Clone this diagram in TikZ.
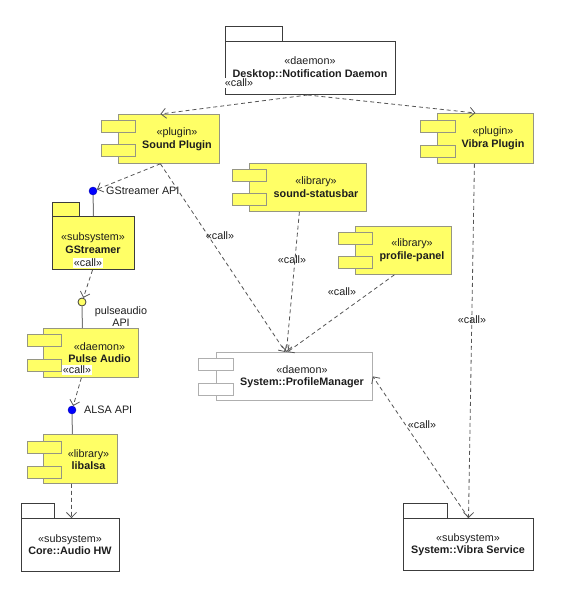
\documentclass[tikz,border=0pt]{standalone}
\usepackage{fontspec}
\setmainfont{Liberation Sans}
\usetikzlibrary{arrows.meta,calc}
\definecolor{compyellow}{RGB}{255,255,102}
\definecolor{compborder}{RGB}{150,150,130}
\definecolor{pkgborder}{RGB}{60,60,60}
\definecolor{pmborder}{RGB}{175,175,175}
\definecolor{linegray}{RGB}{85,85,85}
\definecolor{stemgray}{RGB}{120,120,120}
\definecolor{txt}{RGB}{30,30,30}
\begin{document}
\begin{tikzpicture}[x=1pt,y=-1pt,
  font=\fontsize{10.8}{12.5}\selectfont,
  comp/.style={draw=compborder, fill=compyellow, line width=0.8pt, inner sep=0pt, anchor=north west},
  port/.style={draw=compborder, fill=compyellow, line width=0.8pt, inner sep=0pt, anchor=north west, minimum width=34pt, minimum height=12pt},
  pmbox/.style={draw=pmborder, fill=white, line width=0.8pt, inner sep=0pt, anchor=north west},
  pmport/.style={draw=pmborder, fill=white, line width=0.8pt, inner sep=0pt, anchor=north west, minimum width=35pt, minimum height=12pt},
  pkg/.style={draw=pkgborder, fill=white, line width=1pt, inner sep=0pt, anchor=north west},
  ypkg/.style={draw=pkgborder, fill=compyellow, line width=1pt, inner sep=0pt, anchor=north west},
  lbl/.style={align=center, inner sep=0pt, text=txt},
  note/.style={inner sep=0pt, text=txt},
  calllbl/.style={fill=white, inner sep=1pt, text=txt},
  conn/.style={draw=linegray, line width=0.8pt, dash pattern=on 4pt off 3pt, -{Straight Barb[length=5pt,width=10pt,line width=0.8pt]}},
  stem/.style={draw=stemgray, line width=1pt},
  bdot/.style={circle, fill=blue, draw=blue!70!black, minimum size=8pt, inner sep=0pt},
  ydot/.style={circle, fill=compyellow, draw=pkgborder, line width=0.8pt, minimum size=8pt, inner sep=0pt}
]
\useasboundingbox (0,0) rectangle (560,599);

% Desktop::Notification Daemon
\node[pkg, minimum width=57pt, minimum height=15pt] (nd-tab) at (225,26) {};
\node[pkg, minimum width=170pt, minimum height=53pt] (nd) at (225,41) {};
\node[lbl] (nd-t) at (310,68) {«daemon»\\\textbf{Desktop::Notification Daemon}};

% Sound Plugin
\node[comp, minimum width=101pt, minimum height=49pt] (sp) at (118,114) {};
\node[port] (sp-p1) at (101,120) {};
\node[port] (sp-p2) at (101,144) {};
\node[lbl] (sp-t) at (177,139) {«plugin»\\\textbf{Sound Plugin}};

% Vibra Plugin
\node[comp, minimum width=96pt, minimum height=50pt] (vp) at (437,113) {};
\node[port, minimum width=35pt] (vp-p1) at (420,120) {};
\node[port, minimum width=35pt] (vp-p2) at (420,145) {};
\node[lbl] (vp-t) at (493,138) {«plugin»\\\textbf{Vibra Plugin}};

% sound-statusbar
\node[comp, minimum width=117pt, minimum height=48pt] (ss) at (249,163) {};
\node[port] (ss-p1) at (232,169) {};
\node[port] (ss-p2) at (232,193) {};
\node[lbl] (ss-t) at (316,187) {«library»\\\textbf{sound-statusbar}};

% profile-panel
\node[comp, minimum width=96pt, minimum height=48pt] (pp) at (355,226) {};
\node[port] (pp-p1) at (338,232) {};
\node[port] (pp-p2) at (338,256) {};
\node[lbl] (pp-t) at (412,250) {«library»\\\textbf{profile-panel}};

% System::ProfileManager
\node[pmbox, minimum width=156pt, minimum height=48pt] (pm) at (216,352) {};
\node[pmport] (pm-p1) at (198,358) {};
\node[pmport] (pm-p2) at (198,383) {};
\node[lbl] (pm-t) at (302,376.5) {«daemon»\\\textbf{System::ProfileManager}};

% GStreamer subsystem
\node[ypkg, minimum width=27pt, minimum height=14pt] (gs-tab) at (52,202) {};
\node[ypkg, minimum width=82pt, minimum height=53pt] (gs) at (52,216) {};
\node[lbl] (gs-t) at (93,243) {«subsystem»\\\textbf{GStreamer}};

% Pulse Audio
\node[comp, minimum width=95pt, minimum height=49pt] (pa) at (43,328) {};
\node[port] (pa-p1) at (27,334) {};
\node[port] (pa-p2) at (27,359) {};
\node[lbl] (pa-t) at (99.5,352.5) {«daemon»\\\textbf{Pulse Audio}};

% libalsa
\node[comp, minimum width=74pt, minimum height=49pt] (la) at (43,434) {};
\node[port] (la-p1) at (27,441) {};
\node[port] (la-p2) at (27,466) {};
\node[lbl] (la-t) at (88.5,459.5) {«library»\\\textbf{libalsa}};

% Core::Audio HW
\node[pkg, minimum width=33pt, minimum height=15pt] (ca-tab) at (21,503) {};
\node[pkg, minimum width=98pt, minimum height=53pt] (ca) at (21,518) {};
\node[lbl] (ca-t) at (70,544.5) {«subsystem»\\\textbf{Core::Audio HW}};

% System::Vibra Service
\node[pkg, minimum width=44pt, minimum height=15pt] (vs-tab) at (403,503) {};
\node[pkg, minimum width=130pt, minimum height=52pt] (vs) at (403,518) {};
\node[lbl] (vs-t) at (468,544.5) {«subsystem»\\\textbf{System::Vibra Service}};

% interfaces (lollipops)
\node[bdot] (gdot) at (93,191) {};
\node[note, anchor=west] (gdot-l) at (106,191) {GStreamer API};
\node[ydot] (pdot) at (82,302) {};
\node[lbl] (pdot-l) at (121,316.5) {pulseaudio\\API};
\node[bdot] (adot) at (72,410) {};
\node[note, anchor=west] (adot-l) at (84,410) {ALSA API};

\draw[stem] (gdot) -- (gs.north);
\draw[stem] (pdot) -- ([xshift=-8.5pt]pa.north);
\draw[stem] (adot) -- ([xshift=-8pt]la.north);

% connectors
\draw[conn] ([xshift=-3pt]nd.south) -- ([xshift=-8.5pt]sp.north);
\draw[conn] ([xshift=-3pt]nd.south) -- ([xshift=-10pt]vp.north);
\draw[conn] ([xshift=-8.5pt]sp.south) -- (gdot);
\draw[conn] ([xshift=-8.5pt]sp.south) -- ([xshift=-9pt]pm.north);
\draw[conn] ([xshift=-8.5pt]ss.south) -- ([xshift=-8pt]pm.north);
\draw[conn] ([xshift=-9pt]pp.south) -- ([xshift=-7pt]pm.north);
\draw[conn] ([xshift=-1pt]gs.south) -- (pdot);
\draw[conn] ([xshift=-9.5pt]pa.south) -- (adot);
\draw[conn] ([xshift=-9pt]la.south) -- ([xshift=1pt]ca.north);
\draw[conn] ([xshift=-11pt]vp.south) -- (vs.north);
\draw[conn] (vs.north) -- (pm.east);

% call labels
\node[calllbl] (nd-call) at (239,83) {«call»};
\node[calllbl] (gs-call) at (88,263) {«call»};
\node[calllbl] (pa-call) at (77,370) {«call»};
\node[note] (c1) at (220,236) {«call»};
\node[note] (c2) at (292,260) {«call»};
\node[note] (c3) at (342,292) {«call»};
\node[note] (c4) at (472,320) {«call»};
\node[note] (c5) at (422,425) {«call»};
\end{tikzpicture}
\end{document}
